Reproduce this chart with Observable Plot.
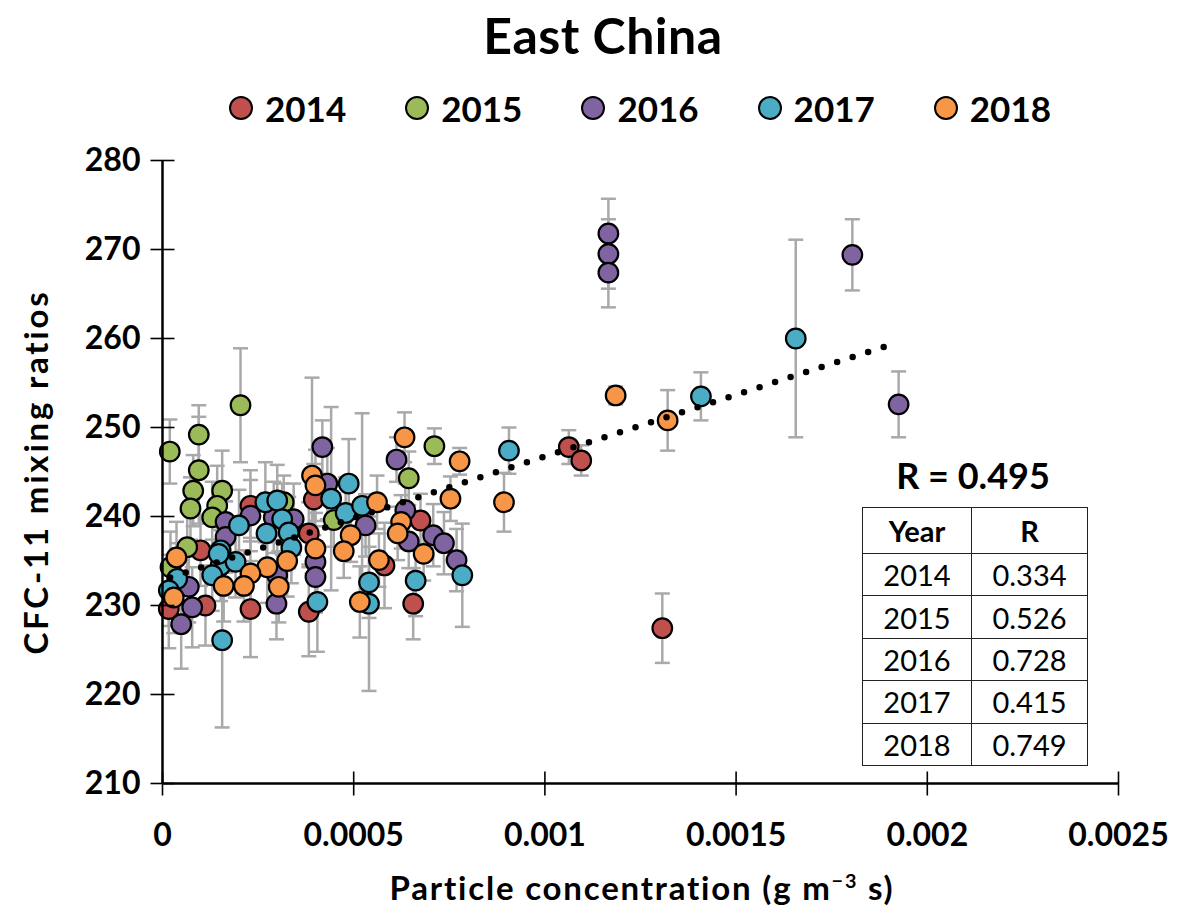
<!DOCTYPE html>
<html>
<head>
<meta charset="utf-8">
<script src="https://cdn.jsdelivr.net/npm/d3@7"></script>
<script src="https://cdn.jsdelivr.net/npm/@observablehq/plot@0.6"></script>
<style>
  html, body { margin: 0; padding: 0; background: #fff; }
  body { width: 1182px; height: 915px; position: relative; overflow: hidden; font-family: Lato, "Open Sans", sans-serif; color: #000; }
  .abs { position: absolute; }
  #title { left: 12px; top: 5px; width: 1182px; text-align: center; font-size: 50px; font-weight: 700; line-height: 60px; letter-spacing: 0.5px; }
  #legend { left: 229px; top: 88px; height: 40px; display: flex; align-items: center; gap: 59px; }
  .item { display: flex; align-items: center; gap: 12px; font-size: 35px; font-weight: 700; }
  .sw { width: 20px; height: 20px; border-radius: 50%; border: 2px solid #000; }
  #chart { left: 0; top: 140px; }
  #ytitle { left: 35px; top: 472px; transform: translate(-50%, -50%) rotate(-90deg); white-space: nowrap; font-size: 33px; font-weight: 700; letter-spacing: 2.8px; }
  #xtitle { left: 642px; top: 887px; transform: translate(-50%, -50%); white-space: nowrap; font-size: 33px; font-weight: 700; letter-spacing: 1.8px; }
  #rtitle { left: 973px; top: 475px; transform: translate(-50%, -50%); white-space: nowrap; font-size: 36px; font-weight: 700; }
  #rtable { left: 862px; top: 507px; border-collapse: collapse; background: #fff; }
  #rtable td { border: 1.5px solid #222; font-size: 29px; text-align: center; padding: 0; }
  #rtable tr { height: 42.4px; }
  #rtable tr.hd { height: 46px; }
  #rtable tr.hd td { font-weight: 700; }
  #rtable td.c1 { width: 108px; }
  #rtable td.c2 { width: 115px; }
</style>
</head>
<body>
<div id="title" class="abs">East China</div>
<div id="legend" class="abs"></div>
<div id="chart" class="abs"></div>
<div id="ytitle" class="abs">CFC-11 mixing ratios</div>
<div id="xtitle" class="abs">Particle concentration (g m<sup style="font-size:0.6em">−3</sup> s)</div>
<div id="rtitle" class="abs">R = 0.495</div>
<table id="rtable" class="abs"></table>
<script>
// ---- data ----
const years = ["2014", "2015", "2016", "2017", "2018"];
const colors = ["#c0504d", "#9bbb59", "#8064a2", "#4bacc6", "#f79646"];

const x2014 = [0.0000165, 0.0001124, 0.0002301, 0.0003826, 0.0003957, 0.0003826, 0.0005805, 0.0006556, 0.0006747, 0.0010625, 0.001095, 0.001307, 0.000230, 0.0000994];
const y2014 = [229.6, 230.0, 229.6, 229.3, 241.9, 238.1, 234.5, 230.2, 239.55, 247.8, 246.3, 227.45, 241.2, 236.2];
const e2014 = [4.4, 4.5, 5.4, 5.0, 4.0, 3.5, 4.8, 4.0, 3.0, 1.9, 1.7, 3.9, 4.0, 4.0];

const x2015 = [0.0000191, 0.0000949, 0.0000949, 0.0000803, 0.0000732, 0.000204, 0.000156, 0.000143, 0.000130, 0.0000646, 0.0000209, 0.000448, 0.000644, 0.000711, 0.000317];
const y2015 = [247.3, 249.2, 245.2, 242.9, 240.9, 252.5, 242.9, 241.2, 239.9, 236.55, 234.3, 239.6, 244.3, 247.9, 241.6];
const e2015 = [3.6, 3.3, 6.0, 4.0, 3.5, 6.4, 4.5, 4.5, 4.0, 4.0, 4.0, 3.0, 3.0, 2.0, 3.0];

const x2016 = [0.001166, 0.001166, 0.001166, 0.001804, 0.001925, 0.000418, 0.000612, 0.000635, 0.000644, 0.000708, 0.000736, 0.000769, 0.000531, 0.000431, 0.000400, 0.000400, 0.000343, 0.000298, 0.000300, 0.000165, 0.000165, 0.0000688, 0.0000777, 0.0000489, 0.000230, 0.000291];
const y2016 = [271.8, 269.5, 267.4, 269.4, 252.6, 247.8, 246.4, 240.7, 237.2, 237.9, 237.0, 235.1, 239.0, 243.7, 234.9, 233.2, 239.7, 230.2, 233.4, 239.4, 237.7, 232.1, 229.8, 227.9, 240.1, 239.9];
const e2016 = [3.9, 3.9, 3.9, 4.0, 3.7, 3.0, 2.5, 3.0, 3.0, 3.5, 3.5, 3.5, 3.5, 4.0, 4.0, 4.0, 4.0, 4.0, 4.0, 4.0, 4.0, 4.0, 4.5, 5.0, 4.0, 4.0];

const x2017 = [0.001656, 0.001408, 0.000906, 0.000156, 0.000540, 0.000540, 0.000662, 0.000784, 0.000405, 0.000487, 0.000441, 0.000479, 0.000522, 0.000269, 0.000300, 0.000313, 0.000272, 0.000330, 0.000337, 0.000200, 0.000152, 0.000152, 0.000191, 0.000130, 0.0000384, 0.0000165, 0.000147];
const y2017 = [260.0, 253.5, 247.4, 226.1, 230.2, 232.6, 232.8, 233.4, 230.4, 243.7, 242.0, 240.4, 241.2, 241.6, 241.8, 239.7, 238.1, 238.2, 236.5, 239.0, 236.2, 234.5, 234.9, 233.4, 233.0, 231.7, 235.8];
const e2017 = [11.1, 2.7, 2.6, 9.8, 9.8, 4.0, 4.0, 5.8, 5.6, 5.0, 10.3, 4.0, 10.4, 4.5, 4.0, 4.0, 4.0, 4.0, 4.0, 4.0, 4.0, 4.0, 4.0, 4.0, 4.0, 4.0, 4.0];

const x2018 = [0.001185, 0.001321, 0.000893, 0.000777, 0.000753, 0.000633, 0.000624, 0.000615, 0.000683, 0.000566, 0.000561, 0.000492, 0.000474, 0.000391, 0.000400, 0.000400, 0.000516, 0.000326, 0.000274, 0.000304, 0.000230, 0.000213, 0.000160, 0.0000366, 0.0000295];
const y2018 = [253.6, 250.8, 241.6, 246.2, 242.0, 248.9, 239.4, 238.1, 235.8, 235.1, 241.6, 237.9, 236.1, 244.6, 243.5, 236.4, 230.4, 235.0, 234.3, 232.1, 233.6, 232.2, 232.2, 235.4, 230.9];
const e2018 = [1.0, 3.4, 3.3, 1.5, 2.5, 2.8, 3.0, 3.0, 3.0, 3.0, 3.0, 3.0, 3.0, 11.0, 4.0, 4.0, 4.0, 4.0, 4.0, 4.0, 4.0, 4.0, 4.0, 4.0, 4.0];

// dotted linear trend (endpoints)
const trendX = [0.00002, 0.001912];
const trendY = [233.15, 259.4];

const xDomain = [0, 0.0025];
const yDomain = [210, 280];
const xTicks = [0, 0.0005, 0.001, 0.0015, 0.002, 0.0025];
const xTickLabels = ["0", "0.0005", "0.001", "0.0015", "0.002", "0.0025"];
const yTicks = [210, 220, 230, 240, 250, 260, 270, 280];

const tableYears = ["2014", "2015", "2016", "2017", "2018"];
const tableR = ["0.334", "0.526", "0.728", "0.415", "0.749"];

// ---- build ----
const series = [[x2014, y2014, e2014], [x2015, y2015, e2015], [x2016, y2016, e2016], [x2017, y2017, e2017], [x2018, y2018, e2018]];
const data = [];
series.forEach(([xs, ys, es], k) => xs.forEach((x, i) => data.push({year: years[k], x, y: ys[i], e: es[i]})));
const trend = trendX.map((x, i) => ({x, y: trendY[i]}));

// horizontal and vertical line symbols (error-bar caps and crossing axis ticks)
const hline = { draw(ctx, size) { const w = Math.sqrt(size / Math.PI); ctx.moveTo(-w, 0); ctx.lineTo(w, 0); } };
const vline = { draw(ctx, size) { const w = Math.sqrt(size / Math.PI); ctx.moveTo(0, -w); ctx.lineTo(0, w); } };
const gray = "#a9a9a9";

const plot = Plot.plot({
  width: 1182, height: 775,
  marginLeft: 162, marginRight: 64, marginTop: 20, marginBottom: 132,
  style: {fontFamily: "Lato, 'Open Sans', sans-serif", fontSize: "32px", fontWeight: "bold", color: "#000", background: "transparent"},
  x: {domain: xDomain, label: null},
  y: {domain: yDomain, label: null},
  color: {domain: years, range: colors},
  marks: [
    Plot.ruleX(data, {x: "x", y1: d => d.y - d.e, y2: d => d.y + d.e, stroke: gray, strokeWidth: 2.5}),
    Plot.dot(data, {x: "x", y: d => d.y - d.e, symbol: hline, r: 7.5, stroke: gray, strokeWidth: 2.5, fill: "none"}),
    Plot.dot(data, {x: "x", y: d => d.y + d.e, symbol: hline, r: 7.5, stroke: gray, strokeWidth: 2.5, fill: "none"}),
    Plot.dot(data, {x: "x", y: "y", fill: "year", stroke: "#000", strokeWidth: 2.2, r: 9.8}),
    Plot.line(trend, {x: "x", y: "y", stroke: "#000", strokeWidth: 6.5, strokeDasharray: "0 16.3", strokeLinecap: "round"}),
    Plot.ruleX([xDomain[0]], {stroke: "#000", strokeWidth: 2.5}),
    Plot.ruleY([yDomain[0]], {stroke: "#000", strokeWidth: 2.5}),
    Plot.dot(xTicks, {x: d => d, y: yDomain[0], symbol: vline, r: 12, stroke: "#000", strokeWidth: 1.6, fill: "none"}),
    Plot.dot(yTicks, {x: xDomain[0], y: d => d, symbol: hline, r: 12, stroke: "#000", strokeWidth: 1.6, fill: "none"}),
    Plot.axisX({ticks: xTicks, tickSize: 0, tickPadding: 40, tickFormat: d => xTickLabels[xTicks.indexOf(d)], label: null}),
    Plot.axisY({ticks: yTicks, tickSize: 0, tickPadding: 22, tickFormat: d => String(d), label: null})
  ]
});
document.getElementById("chart").appendChild(plot);

// legend
const leg = document.getElementById("legend");
years.forEach((y, i) => {
  const it = document.createElement("div"); it.className = "item";
  const sw = document.createElement("div"); sw.className = "sw"; sw.style.background = colors[i];
  const tx = document.createElement("span"); tx.textContent = y;
  it.appendChild(sw); it.appendChild(tx); leg.appendChild(it);
});

// table
const tb = document.getElementById("rtable");
let html = '<tr class="hd"><td class="c1">Year</td><td class="c2">R</td></tr>';
tableYears.forEach((y, i) => { html += `<tr><td class="c1">${y}</td><td class="c2">${tableR[i]}</td></tr>`; });
tb.innerHTML = html;
</script>
</body>
</html>
